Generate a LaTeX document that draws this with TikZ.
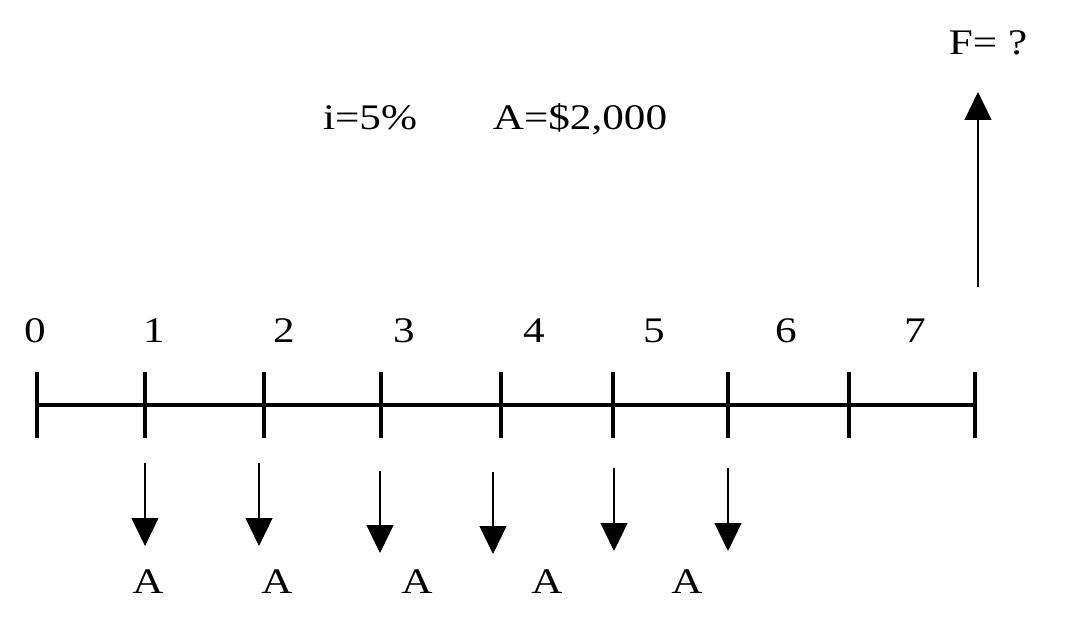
\documentclass[tikz,border=0pt]{standalone}
\usepackage{fontspec}
\setmainfont{Liberation Serif}[FakeStretch=1.2]
\usetikzlibrary{arrows.meta}

\begin{document}
\begin{tikzpicture}[x=0.5pt,y=-0.5pt]
\tikzstyle{every node}+=[inner sep=0pt, anchor=base, font=\fontsize{18}{22}\selectfont]
\tikzset{
  axisline/.style={line width=2pt},
  tickmark/.style={line width=2pt},
  flow/.style={line width=0.6pt, -{Triangle[width=13.5pt,length=14pt]}}
}
\useasboundingbox (0,0) rectangle (1067,626);
% time axis
\coordinate (t0) at (37,405);
\coordinate (t1) at (145,405);
\coordinate (t2) at (264,405);
\coordinate (t3) at (381,405);
\coordinate (t4) at (501,405);
\coordinate (t5) at (613,405);
\coordinate (t6) at (728,405);
\coordinate (t7) at (849,405);
\coordinate (t8) at (975,405);
\draw [axisline] (t0) -- (t8);
\draw [tickmark] ([yshift=16.5pt]t0) -- ([yshift=-16.5pt]t0);
\draw [tickmark] ([yshift=16.5pt]t1) -- ([yshift=-16.5pt]t1);
\draw [tickmark] ([yshift=16.5pt]t2) -- ([yshift=-16.5pt]t2);
\draw [tickmark] ([yshift=16.5pt]t3) -- ([yshift=-16.5pt]t3);
\draw [tickmark] ([yshift=16.5pt]t4) -- ([yshift=-16.5pt]t4);
\draw [tickmark] ([yshift=16.5pt]t5) -- ([yshift=-16.5pt]t5);
\draw [tickmark] ([yshift=16.5pt]t6) -- ([yshift=-16.5pt]t6);
\draw [tickmark] ([yshift=16.5pt]t7) -- ([yshift=-16.5pt]t7);
\draw [tickmark] ([yshift=16.5pt]t8) -- ([yshift=-16.5pt]t8);
% period numbers
\node (n0) at (35,343) {0};
\node (n1) at (154,343) {1};
\node (n2) at (284,343) {2};
\node (n3) at (404,343) {3};
\node (n4) at (534,343) {4};
\node (n5) at (654,343) {5};
\node (n6) at (786,343) {6};
\node (n7) at (915,343) {7};
% deposits
\coordinate (d1s) at (145,463); \coordinate (d1e) at (145,546);
\coordinate (d2s) at (259,463); \coordinate (d2e) at (259,546);
\coordinate (d3s) at (380,471); \coordinate (d3e) at (380,553);
\coordinate (d4s) at (493,472); \coordinate (d4e) at (493,554);
\coordinate (d5s) at (614,468); \coordinate (d5e) at (614,551);
\coordinate (d6s) at (728,468); \coordinate (d6e) at (728,551);
\draw [flow] (d1s) -- (d1e);
\draw [flow] (d2s) -- (d2e);
\draw [flow] (d3s) -- (d3e);
\draw [flow] (d4s) -- (d4e);
\draw [flow] (d5s) -- (d5e);
\draw [flow] (d6s) -- (d6e);
\node (a1) at (148,593) {A};
\node (a2) at (277,593) {A};
\node (a3) at (417,593) {A};
\node (a4) at (547,593) {A};
\node (a5) at (687,593) {A};
% future value
\coordinate (fs) at (978,287);
\coordinate (fe) at (978,92);
\draw [flow] (fs) -- (fe);
\node (fv) at (988,55) {F= ?};
% data
\node (rate) at (370,130) {i=5\%};
\node (ann) at (580,130) {A=\$2,000};
\end{tikzpicture}
\end{document}
